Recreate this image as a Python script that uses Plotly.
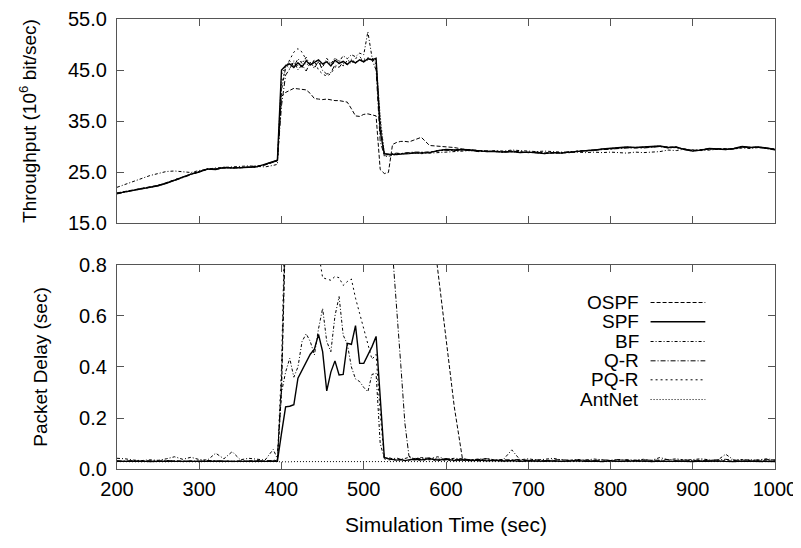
import plotly.graph_objects as go
from plotly.subplots import make_subplots

# sample times (sec): coarse before/after the load burst, finer around it
t = list(range(200, 400, 10)) + list(range(395, 565, 5)) + list(range(570, 1010, 10))

names = ["OSPF", "SPF", "BF", "Q-R", "PQ-R", "AntNet"]

# throughput (10^6 bit/sec)
thr_ospf = [20.9, 21.2, 21.5, 21.8, 22.1, 22.4, 22.9, 23.5, 24.1, 24.6, 25.1, 25.5, 25.6, 25.8, 25.9, 25.8, 26.0, 26.1, 26.4, 26.9,
            27.2, 39.8, 40.6, 41.0, 41.4, 41.3, 41.2, 41.1, 40.4, 39.4, 39.3, 39.2, 39.3, 39.1, 39.0, 39.0, 38.9, 38.7, 37.4, 36.0,
            35.9, 36.3, 36.4, 36.2, 36.0, 25.5, 24.7, 24.9, 30.4, 30.8, 31.0, 31.0, 30.9, 31.2,
            31.8, 30.2, 30.1, 30.0, 29.8, 29.5, 29.3, 29.2, 29.1, 29.0, 29.0, 29.1, 28.9, 28.8, 28.9, 28.7, 28.7, 28.8, 28.8, 29.1,
            29.2, 29.2, 29.4, 29.5, 29.7, 29.8, 29.7, 29.8, 29.9, 30.0, 29.9, 29.8, 29.5, 29.2, 29.4, 29.5, 29.6, 29.5, 29.5, 29.9,
            29.9, 29.8, 29.6, 29.3]
thr_spf = [20.8, 21.1, 21.4, 21.7, 22.0, 22.3, 22.8, 23.4, 24.0, 24.6, 25.0, 25.6, 25.5, 25.9, 25.8, 25.8, 25.9, 26.0, 26.5, 27.0,
           27.3, 45.0, 45.8, 46.2, 45.5, 46.4, 45.6, 46.8, 46.0, 46.5, 47.0, 46.2, 46.6, 45.8, 46.9, 46.3, 46.7, 46.1, 46.8, 46.4,
           47.0, 46.6, 47.2, 47.0, 47.3, 33.0, 28.6, 28.5, 28.4, 28.4, 28.5, 28.5, 28.6, 28.7,
           28.7, 28.8, 29.2, 29.4, 29.3, 29.4, 29.3, 29.1, 29.0, 29.0, 28.9, 29.0, 28.8, 28.9, 28.8, 28.6, 28.8, 28.7, 28.9, 29.0,
           29.1, 29.3, 29.5, 29.6, 29.8, 29.9, 29.8, 29.9, 30.0, 30.1, 29.8, 29.9, 29.4, 29.1, 29.3, 29.6, 29.5, 29.4, 29.6, 30.0,
           29.8, 29.9, 29.7, 29.4]
thr_bf = [22.0, 22.6, 23.2, 23.8, 24.3, 24.7, 25.1, 25.2, 25.0, 24.9, 25.3, 25.6, 25.8, 25.9, 26.0, 26.1, 26.2, 26.1, 26.0, 26.3,
          26.5, 41.0, 45.5, 46.8, 45.7, 47.2, 46.3, 47.5, 45.8, 47.0, 46.5, 45.5, 47.3, 46.2, 47.4, 46.6, 47.8, 47.2, 48.0, 47.6,
          48.3, 48.0, 52.5, 47.5, 46.0, 35.0, 28.0, 28.1, 28.3, 28.5, 28.6, 28.7, 28.8, 28.8,
          28.6, 28.7, 28.9, 29.0, 29.1, 29.2, 29.2, 29.0, 29.1, 29.2, 29.1, 29.3, 29.2, 29.1, 29.0, 29.1, 29.0, 28.9, 28.8, 28.9,
          28.8, 28.9, 28.8, 28.9, 28.8, 28.7, 28.9, 28.8, 28.9, 29.0, 29.3, 29.2, 29.5, 29.4, 29.2, 29.3, 29.4, 29.6, 29.5, 29.7,
          29.6, 29.8, 29.7, 29.5]
thr_qr = [20.7, 21.0, 21.4, 21.8, 22.0, 22.4, 22.8, 23.3, 23.9, 24.5, 25.0, 25.6, 25.6, 25.8, 25.8, 25.9, 25.9, 26.1, 26.4, 27.0,
          27.2, 38.0, 44.0, 45.2, 46.8, 45.0, 46.0, 44.8, 46.5, 45.3, 46.8, 44.9, 44.2, 44.5, 46.0, 45.5, 46.6, 46.0, 46.8, 46.4,
          47.0, 46.6, 47.2, 47.0, 45.0, 31.0, 28.3, 28.4, 28.6, 28.7, 28.6, 28.7, 28.8, 28.9,
          28.9, 28.9, 29.1, 29.3, 29.2, 29.3, 29.2, 29.0, 29.1, 29.0, 28.9, 29.1, 28.9, 28.8, 28.9, 28.7, 28.8, 28.8, 29.0, 29.0,
          29.2, 29.3, 29.4, 29.6, 29.7, 29.8, 29.8, 29.7, 29.9, 30.0, 29.7, 29.8, 29.5, 29.2, 29.3, 29.5, 29.5, 29.4, 29.6, 29.9,
          29.8, 29.9, 29.6, 29.4]
thr_pqr = [20.8, 21.1, 21.5, 21.7, 22.1, 22.3, 22.9, 23.4, 24.0, 24.6, 25.1, 25.5, 25.6, 25.9, 25.8, 25.9, 25.9, 26.0, 26.5, 27.1,
           27.3, 42.0, 45.5, 47.0, 48.5, 49.2, 48.5, 47.0, 46.0, 46.8, 45.0, 44.2, 43.8, 44.3, 45.5, 46.3, 45.8, 46.9, 46.2, 47.3,
           47.6, 46.8, 47.4, 47.1, 46.5, 34.0, 28.4, 28.5, 28.5, 28.6, 28.6, 28.7, 28.7, 28.8,
           28.8, 28.9, 29.2, 29.3, 29.3, 29.4, 29.2, 29.1, 29.0, 29.1, 28.9, 29.0, 28.9, 28.9, 28.8, 28.7, 28.8, 28.7, 28.9, 29.1,
           29.1, 29.2, 29.5, 29.6, 29.8, 29.8, 29.8, 29.9, 30.0, 30.0, 29.8, 29.9, 29.4, 29.2, 29.3, 29.6, 29.4, 29.4, 29.5, 30.0,
           29.8, 29.8, 29.7, 29.4]
thr_antnet = [20.8, 21.1, 21.4, 21.7, 22.0, 22.3, 22.8, 23.4, 24.0, 24.6, 25.0, 25.6, 25.5, 25.9, 25.8, 25.8, 25.9, 26.0, 26.5, 27.1,
              27.3, 44.0, 46.0, 45.3, 46.5, 45.8, 46.9, 46.0, 46.4, 45.6, 46.6, 46.0, 46.8, 45.9, 46.5, 46.9, 46.2, 46.7, 47.1, 46.5,
              47.0, 47.2, 46.9, 47.3, 47.0, 36.0, 28.7, 28.5, 28.5, 28.4, 28.5, 28.6, 28.6, 28.7,
              28.7, 28.8, 29.2, 29.4, 29.3, 29.4, 29.3, 29.1, 29.0, 29.0, 28.9, 29.0, 28.8, 28.9, 28.8, 28.6, 28.8, 28.7, 28.9, 29.0,
              29.1, 29.3, 29.5, 29.6, 29.8, 29.9, 29.8, 29.9, 30.0, 30.1, 29.8, 29.9, 29.4, 29.1, 29.3, 29.6, 29.5, 29.4, 29.6, 30.0,
              29.8, 29.9, 29.7, 29.4]

# packet delay (sec); values above 0.8 run off the plot
dly_ospf = [0.031, 0.030, 0.032, 0.030, 0.031, 0.030, 0.032, 0.031, 0.030, 0.031, 0.030, 0.032, 0.031, 0.030, 0.031, 0.030, 0.032, 0.031, 0.030, 0.031,
            0.035, 0.300, 0.950, 1.600, 1.900, 2.100, 2.300, 2.400, 2.500, 2.600, 2.700, 2.750, 2.800, 2.850, 2.900, 2.900, 2.950, 3.000, 3.000, 3.050,
            3.050, 3.100, 3.100, 3.100, 3.000, 2.800, 2.600, 2.400, 2.200, 2.000, 1.850, 1.700, 1.550, 1.400,
            1.250, 1.050, 0.780, 0.510, 0.245, 0.040, 0.036, 0.038, 0.034, 0.035, 0.033, 0.036, 0.032, 0.034, 0.031, 0.033, 0.032, 0.030, 0.033, 0.031,
            0.032, 0.030, 0.031, 0.032, 0.030, 0.033, 0.031, 0.030, 0.032, 0.031, 0.030, 0.032, 0.031, 0.030, 0.031, 0.033, 0.030, 0.031, 0.032, 0.030,
            0.031, 0.030, 0.032, 0.031]
dly_spf = [0.030, 0.029, 0.030, 0.031, 0.029, 0.030, 0.030, 0.031, 0.029, 0.030, 0.030, 0.029, 0.031, 0.030, 0.030, 0.029, 0.030, 0.031, 0.030, 0.030,
           0.030, 0.140, 0.244, 0.246, 0.252, 0.356, 0.388, 0.420, 0.450, 0.470, 0.528, 0.460, 0.306, 0.380, 0.424, 0.369, 0.371, 0.493, 0.489, 0.562,
           0.414, 0.414, 0.447, 0.480, 0.520, 0.270, 0.045, 0.040, 0.038, 0.035, 0.037, 0.033, 0.036, 0.038,
           0.036, 0.040, 0.035, 0.038, 0.034, 0.036, 0.033, 0.035, 0.032, 0.034, 0.031, 0.033, 0.030, 0.032, 0.031, 0.030, 0.032, 0.030, 0.031, 0.033,
           0.030, 0.031, 0.029, 0.032, 0.030, 0.031, 0.030, 0.032, 0.029, 0.031, 0.030, 0.031, 0.030, 0.029, 0.031, 0.030, 0.032, 0.030, 0.029, 0.031,
           0.030, 0.031, 0.030, 0.029]
dly_bf = [0.042, 0.040, 0.035, 0.033, 0.036, 0.034, 0.040, 0.048, 0.038, 0.046, 0.037, 0.035, 0.062, 0.040, 0.068, 0.036, 0.042, 0.038, 0.035, 0.077,
          0.040, 0.300, 0.380, 0.434, 0.360, 0.400, 0.500, 0.530, 0.500, 0.447, 0.550, 0.630, 0.500, 0.460, 0.600, 0.676, 0.525, 0.490, 0.400, 0.353,
          0.343, 0.320, 0.303, 0.371, 0.375, 0.100, 0.042, 0.045, 0.040, 0.043, 0.038, 0.041, 0.046, 0.040,
          0.045, 0.040, 0.048, 0.038, 0.042, 0.040, 0.036, 0.039, 0.041, 0.035, 0.038, 0.075, 0.036, 0.040, 0.035, 0.038, 0.042, 0.036, 0.034, 0.037,
          0.035, 0.039, 0.036, 0.033, 0.037, 0.036, 0.035, 0.038, 0.034, 0.045, 0.036, 0.040, 0.035, 0.037, 0.040, 0.036, 0.034, 0.058, 0.035, 0.037,
          0.034, 0.036, 0.040, 0.035]
dly_qr = [0.032, 0.031, 0.033, 0.030, 0.032, 0.031, 0.033, 0.031, 0.030, 0.032, 0.031, 0.033, 0.032, 0.031, 0.030, 0.032, 0.031, 0.033, 0.031, 0.034,
          0.036, 0.350, 1.000, 1.300, 1.500, 1.620, 1.780, 1.910, 1.970, 2.040, 2.080, 1.990, 1.960, 1.880, 1.860, 1.790, 1.740, 1.710, 1.630, 1.580,
          1.560, 1.490, 1.440, 1.380, 1.310, 1.250, 1.190, 1.070, 0.860, 0.640, 0.410, 0.180, 0.050, 0.042,
          0.040, 0.044, 0.038, 0.041, 0.036, 0.039, 0.035, 0.037, 0.040, 0.034, 0.036, 0.035, 0.038, 0.034, 0.036, 0.033, 0.035, 0.037, 0.034, 0.036,
          0.035, 0.033, 0.036, 0.034, 0.037, 0.035, 0.033, 0.036, 0.034, 0.035, 0.037, 0.034, 0.036, 0.033, 0.035, 0.034, 0.036, 0.038, 0.034, 0.035,
          0.036, 0.034, 0.037, 0.035]
dly_pqr = [0.030, 0.031, 0.030, 0.029, 0.031, 0.030, 0.031, 0.030, 0.029, 0.030, 0.031, 0.030, 0.030, 0.031, 0.029, 0.030, 0.031, 0.030, 0.030, 0.031,
           0.032, 0.400, 1.100, 1.300, 1.350, 1.300, 1.250, 1.150, 1.050, 0.950, 0.840, 0.750, 0.745, 0.740, 0.755, 0.750, 0.720, 0.735, 0.745, 0.670,
           0.610, 0.550, 0.490, 0.430, 0.450, 0.220, 0.040, 0.035, 0.038, 0.034, 0.036, 0.033, 0.035, 0.036,
           0.034, 0.036, 0.033, 0.035, 0.032, 0.034, 0.033, 0.031, 0.034, 0.032, 0.031, 0.033, 0.032, 0.030, 0.033, 0.031, 0.032, 0.031, 0.030, 0.032,
           0.031, 0.033, 0.030, 0.031, 0.032, 0.030, 0.033, 0.031, 0.030, 0.032, 0.031, 0.030, 0.032, 0.031, 0.033, 0.030, 0.031, 0.032, 0.030, 0.031,
           0.032, 0.030, 0.031, 0.032]
dly_antnet = [0.029, 0.028, 0.029, 0.028, 0.029, 0.028, 0.028, 0.029, 0.028, 0.029, 0.028, 0.029, 0.028, 0.028, 0.029, 0.028, 0.029, 0.028, 0.029, 0.028,
              0.028, 0.029, 0.029, 0.028, 0.029, 0.029, 0.028, 0.029, 0.029, 0.028, 0.029, 0.029, 0.028, 0.029, 0.029, 0.028, 0.029, 0.029, 0.028, 0.029,
              0.029, 0.028, 0.029, 0.029, 0.028, 0.029, 0.028, 0.028, 0.029, 0.028, 0.028, 0.029, 0.028, 0.028,
              0.029, 0.028, 0.028, 0.029, 0.028, 0.029, 0.028, 0.028, 0.029, 0.028, 0.029, 0.028, 0.028, 0.029, 0.028, 0.029, 0.028, 0.028, 0.029, 0.028,
              0.029, 0.028, 0.028, 0.029, 0.028, 0.029, 0.028, 0.028, 0.029, 0.028, 0.029, 0.028, 0.028, 0.029, 0.028, 0.029, 0.028, 0.028, 0.029, 0.028,
              0.029, 0.028, 0.028, 0.029]

throughput = [thr_ospf, thr_spf, thr_bf, thr_qr, thr_pqr, thr_antnet]
delay = [dly_ospf, dly_spf, dly_bf, dly_qr, dly_pqr, dly_antnet]

# gnuplot-like line types
dashes = ["4px,2px", "solid", "3px,2px,1px,2px", "5px,2px,1px,2px", "2px,3px", "1px,2px"]
widths = [1, 1.4, 1, 1, 1, 1]

FONT = "Liberation Sans, Arial, sans-serif"
AXC = "#555555"

fig = make_subplots(rows=2, cols=1, vertical_spacing=0.0933)

for i, name in enumerate(names):
    style = dict(color="black", width=widths[i], dash=dashes[i])
    fig.add_trace(go.Scatter(x=t, y=throughput[i], mode="lines", name=name,
                             line=style, showlegend=False), row=1, col=1)
    fig.add_trace(go.Scatter(x=t, y=delay[i], mode="lines", name=name,
                             line=style, showlegend=False), row=2, col=1)

axis_common = dict(ticks="inside", ticklen=7, tickcolor=AXC, showline=True,
                   linecolor=AXC, linewidth=1.3, mirror="allticks",
                   showgrid=False, zeroline=False, automargin=False,
                   ticklabeloverflow="allow",
                   tickfont=dict(family=FONT, size=20, color="black"))

fig.update_xaxes(range=[200, 1000], dtick=100, tick0=200, ticklabelstandoff=2,
                 **axis_common)
fig.update_xaxes(showticklabels=False, row=1, col=1)
fig.update_xaxes(title=dict(text="Simulation Time (sec)", standoff=18,
                            font=dict(family=FONT, size=21, color="black")),
                 row=2, col=1)
fig.update_yaxes(range=[15, 55], dtick=10, tick0=15, tickformat=".1f",
                 ticklabelstandoff=5,
                 title=dict(text="Throughput (10<sup>6</sup> bit/sec)", standoff=26,
                            font=dict(family=FONT, size=19, color="black")),
                 row=1, col=1, **axis_common)
fig.update_yaxes(range=[0, 0.8], dtick=0.2, tickformat=".1f",
                 ticklabelstandoff=5,
                 title=dict(text="Packet Delay (sec)", standoff=26,
                            font=dict(family=FONT, size=19, color="black")),
                 row=2, col=1, **axis_common)

# legend drawn by hand: label on the left, line sample on the right
leg_y = [0.370, 0.3271, 0.2833, 0.2404, 0.1982, 0.1544]
for i, name in enumerate(names):
    fig.add_annotation(x=0.7968, y=leg_y[i], xref="paper", yref="paper",
                       text=name, showarrow=False, xanchor="right", yanchor="middle",
                       font=dict(family=FONT, size=19, color="black"))
    fig.add_shape(type="line", xref="paper", yref="paper",
                  x0=0.8109, x1=0.8941, y0=leg_y[i], y1=leg_y[i],
                  line=dict(color="black", width=widths[i], dash=dashes[i]))

# the page body has an 8px margin all round, so keep the figure inside
# the window (no scrollbars)
fig.update_layout(width=785, height=532,
                  margin=dict(l=109, r=18, t=11, b=71),
                  plot_bgcolor="white", paper_bgcolor="white",
                  font=dict(family=FONT, size=19, color="black"),
                  showlegend=False)

fig.write_html("out.html")
